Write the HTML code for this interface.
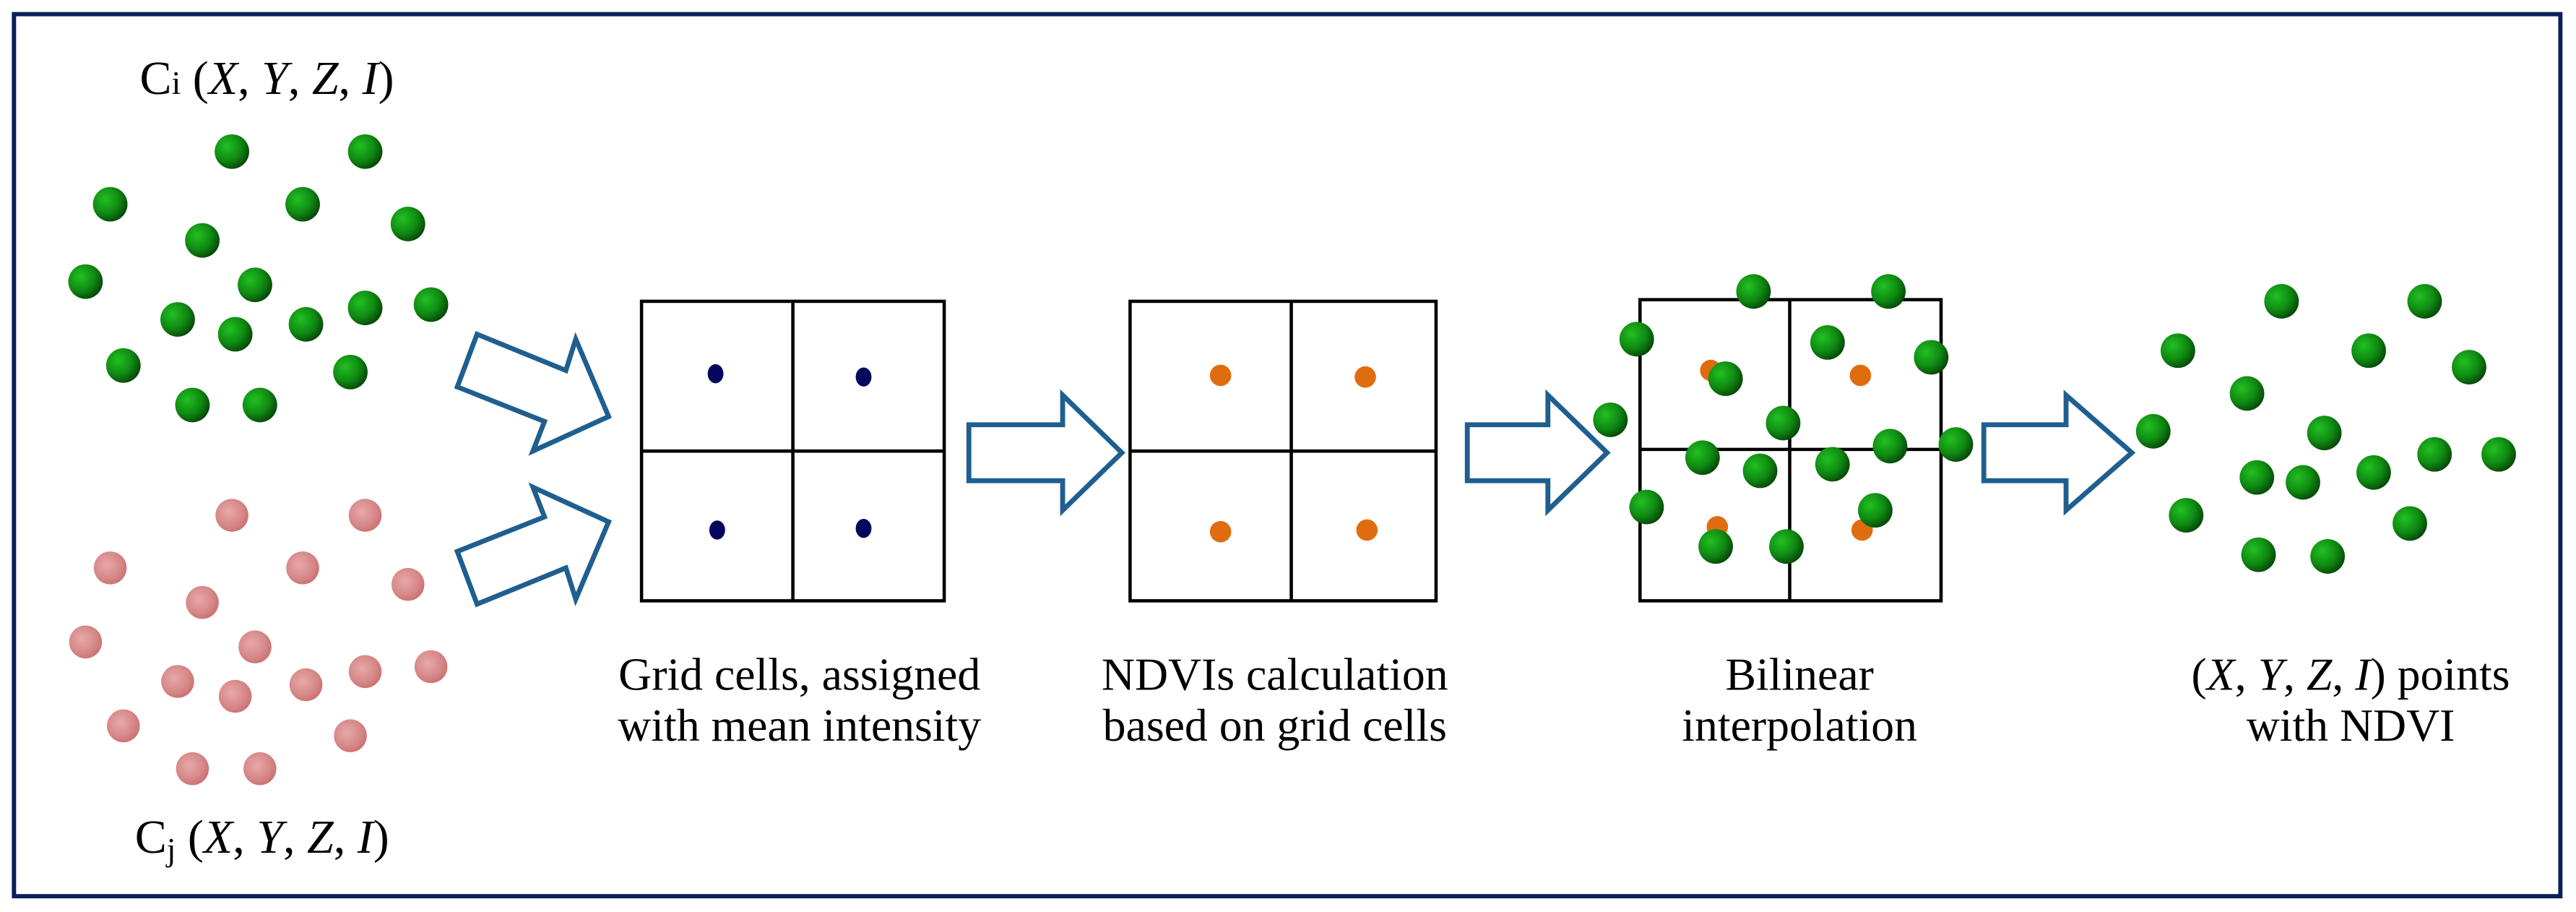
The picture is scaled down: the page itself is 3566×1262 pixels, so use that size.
<!DOCTYPE html>
<html><head><meta charset="utf-8"><style>
html,body{margin:0;padding:0;background:#fff;}
svg{display:block;}
text{font-family:"Liberation Serif",serif;fill:#000;}
</style></head><body>
<svg width="3566" height="1262" viewBox="0 0 1566 554" xmlns="http://www.w3.org/2000/svg">
<defs>
<radialGradient id="g" cx="0.35" cy="0.35" r="0.75">
<stop offset="0" stop-color="#22c022"/><stop offset="0.55" stop-color="#0f8a12"/><stop offset="1" stop-color="#063a08"/>
</radialGradient>
<radialGradient id="p" cx="0.4" cy="0.4" r="0.7">
<stop offset="0" stop-color="#e8a8a8"/><stop offset="0.6" stop-color="#d68888"/><stop offset="1" stop-color="#c86a6a"/>
</radialGradient>
<circle id="gd" r="10.5" fill="url(#g)"/>
<circle id="pd" r="10" fill="url(#p)"/>
</defs>
<rect x="0" y="0" width="1566" height="554" fill="#fff"/>
<rect x="8.5" y="8.5" width="1548" height="536" fill="none" stroke="#0a1f5c" stroke-width="2.6"/>

<text x="85" y="57" font-size="29">C<tspan font-size="20">i</tspan> (<tspan font-style="italic">X</tspan>, <tspan font-style="italic">Y</tspan>, <tspan font-style="italic">Z</tspan>, <tspan font-style="italic">I</tspan>)</text>
<text x="82" y="518" font-size="29">C<tspan font-size="20" dy="5">j</tspan><tspan dy="-5"> (</tspan><tspan font-style="italic">X</tspan>, <tspan font-style="italic">Y</tspan>, <tspan font-style="italic">Z</tspan>, <tspan font-style="italic">I</tspan>)</text>

<g>
<use href="#gd" x="141" y="92"/><use href="#gd" x="222" y="92"/><use href="#gd" x="67" y="124"/><use href="#gd" x="184" y="124"/><use href="#gd" x="248" y="136"/><use href="#gd" x="123" y="146"/><use href="#gd" x="155" y="173"/><use href="#gd" x="52" y="171"/><use href="#gd" x="108" y="194"/><use href="#gd" x="143" y="203"/><use href="#gd" x="186" y="197"/><use href="#gd" x="222" y="187"/><use href="#gd" x="262" y="185"/><use href="#gd" x="75" y="222"/><use href="#gd" x="213" y="226"/><use href="#gd" x="117" y="246"/><use href="#gd" x="158" y="246"/>
</g>
<g>
<use href="#pd" x="141" y="313"/><use href="#pd" x="222" y="313"/><use href="#pd" x="67" y="345"/><use href="#pd" x="184" y="345"/><use href="#pd" x="248" y="355"/><use href="#pd" x="123" y="366"/><use href="#pd" x="155" y="393"/><use href="#pd" x="52" y="390"/><use href="#pd" x="108" y="414"/><use href="#pd" x="143" y="423"/><use href="#pd" x="186" y="416"/><use href="#pd" x="222" y="408"/><use href="#pd" x="262" y="405"/><use href="#pd" x="75" y="441"/><use href="#pd" x="213" y="447"/><use href="#pd" x="117" y="467"/><use href="#pd" x="158" y="467"/>
</g>

<g fill="#fff" stroke="#1f5f8f" stroke-width="3" stroke-linejoin="miter">
<polygon points="290,203 344,225 350,206 370,253 324,274 331,256 278,235"/>
<polygon points="290,367 344,345 350,364 370,317 324,296 331,314 278,335"/>
<polygon points="589,258 646,258 646,240 682,275 646,310 646,292 589,292"/>
<polygon points="892,258 941,258 941,240 977,275 941,310 941,292 892,292"/>
<polygon points="1206,258 1256,258 1256,240 1296,275 1256,310 1256,292 1206,292"/>
</g>

<g fill="none" stroke="#000" stroke-width="2">
<rect x="390" y="183" width="184" height="182"/>
<line x1="482" y1="183" x2="482" y2="365"/><line x1="390" y1="274" x2="574" y2="274"/>
<rect x="687" y="183" width="186" height="182"/>
<line x1="785" y1="183" x2="785" y2="365"/><line x1="687" y1="274" x2="873" y2="274"/>
<rect x="997" y="182" width="183" height="183"/>
<line x1="1088" y1="182" x2="1088" y2="365"/><line x1="997" y1="273" x2="1180" y2="273"/>
</g>
<g fill="#05065e">
<ellipse cx="435" cy="227" rx="4.8" ry="5.8"/><ellipse cx="525" cy="229" rx="4.8" ry="5.8"/>
<ellipse cx="436" cy="322" rx="4.8" ry="5.8"/><ellipse cx="525" cy="321" rx="4.8" ry="5.8"/>
</g>
<g fill="#e06c10">
<circle cx="742" cy="228" r="6.5"/><circle cx="830" cy="229" r="6.5"/>
<circle cx="742" cy="323" r="6.5"/><circle cx="831" cy="322" r="6.5"/>
<circle cx="1040" cy="225" r="6.5"/><circle cx="1131" cy="228" r="6.5"/>
<circle cx="1044" cy="320" r="6.5"/><circle cx="1132" cy="322" r="6.5"/>
</g>
<g>
<use href="#gd" x="1066" y="177"/><use href="#gd" x="1148" y="177"/><use href="#gd" x="995" y="206"/><use href="#gd" x="1111" y="208"/><use href="#gd" x="1174" y="217"/><use href="#gd" x="1049" y="230"/><use href="#gd" x="979" y="255"/><use href="#gd" x="1084" y="257"/><use href="#gd" x="1035" y="278"/><use href="#gd" x="1070" y="286"/><use href="#gd" x="1114" y="282"/><use href="#gd" x="1149" y="271"/><use href="#gd" x="1189" y="270"/><use href="#gd" x="1001" y="308"/><use href="#gd" x="1140" y="310"/><use href="#gd" x="1043" y="332"/><use href="#gd" x="1086" y="332"/>
</g>

<g>
<use href="#gd" x="1387" y="183"/><use href="#gd" x="1474" y="183"/><use href="#gd" x="1324" y="213"/><use href="#gd" x="1440" y="213"/><use href="#gd" x="1501" y="223"/><use href="#gd" x="1366" y="239"/><use href="#gd" x="1309" y="262"/><use href="#gd" x="1413" y="263"/><use href="#gd" x="1372" y="290"/><use href="#gd" x="1400" y="293"/><use href="#gd" x="1443" y="287"/><use href="#gd" x="1480" y="276"/><use href="#gd" x="1519" y="276"/><use href="#gd" x="1329" y="313"/><use href="#gd" x="1465" y="318"/><use href="#gd" x="1373" y="337"/><use href="#gd" x="1415" y="338"/>
</g>

<g font-size="28" text-anchor="middle">
<text x="486" y="419">Grid cells, assigned</text>
<text x="486" y="450">with mean intensity</text>
<text x="775" y="419">NDVIs calculation</text>
<text x="775" y="450">based on grid cells</text>
<text x="1094" y="419">Bilinear</text>
<text x="1094" y="450">interpolation</text>
<text x="1429" y="419">(<tspan font-style="italic">X</tspan>, <tspan font-style="italic">Y</tspan>, <tspan font-style="italic">Z</tspan>, <tspan font-style="italic">I</tspan>) points</text>
<text x="1429" y="450">with NDVI</text>
</g>
</svg>
</body></html>
